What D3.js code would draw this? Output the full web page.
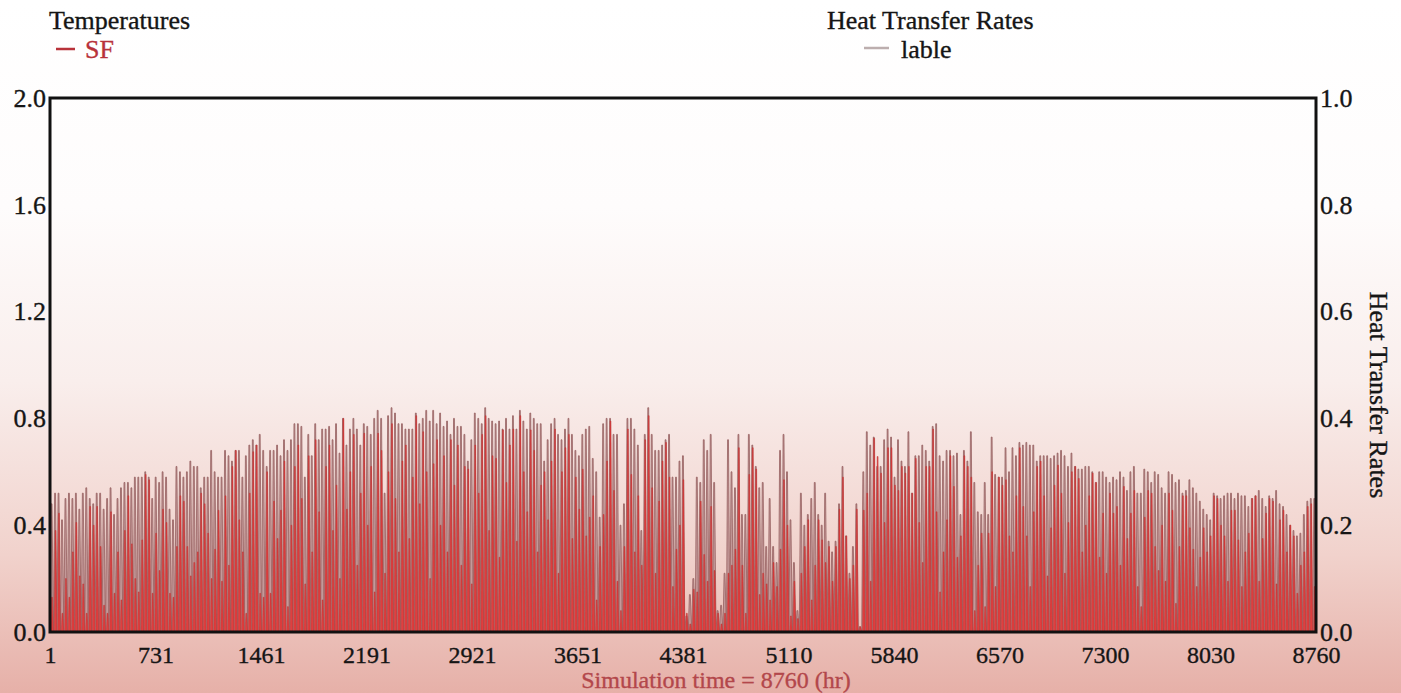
<!DOCTYPE html>
<html><head><meta charset="utf-8">
<script src="https://cdn.jsdelivr.net/npm/d3@7"></script>
<style>html,body{margin:0;padding:0;background:#fff;overflow:hidden}svg{display:block}</style>
</head><body><svg id="c" width="1401" height="693"></svg>
<script>
// ---------- data ----------
const xTicks = [1, 731, 1461, 2191, 2921, 3651, 4381, 5110, 5840, 6570, 7300, 8030, 8760];
const leftTicks = [0.0, 0.4, 0.8, 1.2, 1.6, 2.0];
const rightTicks = [0.0, 0.2, 0.4, 0.6, 0.8, 1.0];
const leftTitle = "Temperatures";
const rightTitle = "Heat Transfer Rates";
const seriesLeft = "SF";
const seriesRight = "lable";
const xTitle = "Simulation time = 8760 (hr)";
// daily peak of the "lable" series (right axis, Heat Transfer Rates), one per day
const lablePeaks = [
0.24,0.26,0.26,0.21,0.25,0.26,0.25,0.26,0.23,0.26,
0.27,0.25,0.24,0.26,0.26,0.23,0.25,0.27,0.22,0.25,
0.27,0.28,0.28,0.27,0.29,0.29,0.29,0.30,0.29,0.25,
0.29,0.28,0.30,0.29,0.23,0.21,0.31,0.30,0.29,0.30,
0.32,0.31,0.31,0.27,0.29,0.29,0.34,0.30,0.29,0.29,
0.34,0.33,0.32,0.34,0.34,0.29,0.33,0.35,0.36,0.35,
0.37,0.34,0.31,0.34,0.34,0.35,0.33,0.36,0.34,0.36,
0.39,0.39,0.385,0.29,0.37,0.33,0.39,0.36,0.38,0.38,
0.385,0.36,0.39,0.335,0.40,0.35,0.38,0.40,0.38,0.35,
0.39,0.385,0.37,0.40,0.415,0.40,0.26,0.405,0.42,0.41,
0.39,0.39,0.38,0.38,0.38,0.41,0.39,0.40,0.415,0.395,
0.415,0.39,0.41,0.385,0.395,0.37,0.40,0.385,0.385,0.37,
0.32,0.36,0.41,0.40,0.39,0.42,0.40,0.395,0.39,0.395,
0.38,0.40,0.38,0.405,0.38,0.415,0.395,0.38,0.41,0.40,
0.39,0.39,0.32,0.36,0.39,0.40,0.37,0.36,0.38,0.40,
0.37,0.34,0.33,0.37,0.38,0.385,0.325,0.30,0.215,0.39,
0.40,0.40,0.37,0.37,0.20,0.24,0.40,0.40,0.38,0.35,
0.19,0.37,0.42,0.37,0.34,0.34,0.35,0.36,0.37,0.29,
0.29,0.32,0.33,0.03,0.07,0.10,0.29,0.28,0.36,0.34,
0.37,0.28,0.04,0.05,0.11,0.36,0.30,0.27,0.37,0.22,
0.22,0.37,0.35,0.31,0.27,0.28,0.16,0.25,0.16,0.13,
0.34,0.37,0.30,0.21,0.13,0.04,0.26,0.20,0.22,0.25,
0.28,0.22,0.20,0.26,0.17,0.15,0.17,0.24,0.31,0.18,
0.11,0.16,0.24,0.01,0.30,0.375,0.35,0.365,0.31,0.31,
0.36,0.38,0.365,0.29,0.36,0.32,0.31,0.375,0.26,0.33,
0.33,0.35,0.34,0.32,0.385,0.39,0.33,0.32,0.34,0.34,
0.33,0.335,0.22,0.34,0.32,0.375,0.28,0.225,0.22,0.28,
0.22,0.365,0.295,0.29,0.29,0.345,0.30,0.345,0.33,0.355,
0.35,0.355,0.35,0.35,0.32,0.33,0.33,0.33,0.325,0.33,
0.335,0.34,0.33,0.31,0.335,0.31,0.305,0.305,0.31,0.31,
0.30,0.28,0.30,0.30,0.29,0.28,0.29,0.285,0.30,0.29,
0.265,0.30,0.31,0.26,0.26,0.305,0.30,0.28,0.30,0.295,
0.27,0.26,0.30,0.295,0.28,0.285,0.26,0.265,0.285,0.27,
0.26,0.245,0.23,0.22,0.21,0.26,0.255,0.25,0.255,0.26,
0.26,0.25,0.26,0.255,0.255,0.235,0.25,0.255,0.265,0.25,
0.235,0.255,0.25,0.265,0.24,0.235,0.22,0.20,0.19,0.18,
0.185,0.22,0.245,0.25,0.25];
// daily peak of the "SF" series (left axis), one per day
const sfPeaks = [
0.13,0.38,0.445,0.07,0.20,0.13,0.30,0.41,0.21,0.18,
0.07,0.47,0.40,0.47,0.32,0.10,0.07,0.45,0.145,0.30,
0.12,0.38,0.51,0.33,0.20,0.15,0.345,0.59,0.57,0.145,
0.37,0.23,0.46,0.41,0.145,0.13,0.32,0.51,0.49,0.32,
0.21,0.26,0.30,0.52,0.48,0.37,0.20,0.31,0.456,0.19,
0.51,0.25,0.62,0.68,0.42,0.30,0.07,0.52,0.675,0.70,
0.145,0.13,0.60,0.145,0.49,0.35,0.456,0.64,0.095,0.40,
0.62,0.70,0.50,0.18,0.66,0.30,0.72,0.45,0.12,0.62,
0.70,0.38,0.55,0.20,0.80,0.46,0.60,0.74,0.25,0.52,
0.744,0.40,0.62,0.15,0.744,0.68,0.22,0.60,0.78,0.50,
0.30,0.64,0.70,0.35,0.58,0.81,0.48,0.75,0.60,0.20,
0.63,0.72,0.40,0.66,0.30,0.72,0.55,0.70,0.25,0.62,
0.61,0.18,0.70,0.52,0.74,0.81,0.38,0.66,0.65,0.28,
0.757,0.56,0.70,0.76,0.34,0.81,0.60,0.45,0.757,0.68,
0.30,0.55,0.60,0.42,0.64,0.76,0.22,0.60,0.69,0.74,
0.35,0.58,0.46,0.61,0.36,0.43,0.51,0.12,0.32,0.44,
0.64,0.79,0.53,0.19,0.08,0.32,0.76,0.59,0.30,0.51,
0.25,0.72,0.81,0.54,0.22,0.49,0.64,0.71,0.58,0.17,
0.31,0.40,0.57,0.07,0.03,0.16,0.15,0.49,0.29,0.19,
0.47,0.23,0.07,0.03,0.07,0.22,0.25,0.31,0.69,0.25,
0.07,0.59,0.69,0.61,0.14,0.22,0.18,0.12,0.26,0.17,
0.31,0.57,0.40,0.06,0.19,0.05,0.22,0.32,0.42,0.12,
0.25,0.42,0.345,0.26,0.32,0.19,0.32,0.46,0.58,0.36,
0.20,0.25,0.46,0.02,0.456,0.52,0.19,0.726,0.657,0.595,
0.41,0.69,0.69,0.55,0.53,0.62,0.595,0.62,0.52,0.65,
0.41,0.26,0.62,0.62,0.76,0.45,0.15,0.30,0.42,0.66,
0.545,0.28,0.36,0.66,0.62,0.58,0.08,0.25,0.37,0.095,
0.37,0.60,0.17,0.58,0.55,0.57,0.36,0.30,0.51,0.69,
0.47,0.36,0.17,0.45,0.62,0.64,0.51,0.21,0.39,0.55,
0.625,0.52,0.22,0.41,0.60,0.62,0.575,0.30,0.40,0.51,
0.595,0.56,0.28,0.445,0.22,0.52,0.445,0.47,0.25,0.545,
0.35,0.445,0.53,0.17,0.095,0.43,0.53,0.52,0.32,0.23,
0.40,0.19,0.52,0.456,0.107,0.32,0.51,0.51,0.39,0.31,
0.17,0.28,0.39,0.30,0.36,0.51,0.50,0.40,0.36,0.19,
0.456,0.456,0.345,0.17,0.30,0.37,0.50,0.51,0.19,0.35,
0.445,0.50,0.49,0.18,0.42,0.456,0.30,0.40,0.36,0.145,
0.25,0.30,0.47,0.48,0.17];

// ---------- layout ----------
const W = 1401, H = 693;
const L = 50, R = 1316, T = 98, B = 632;
const svg = d3.select("#c");
const FONT = "'Liberation Serif','Times New Roman',serif";
const FS = 26, FSX = 24;

const defs = svg.append("defs");
const g0 = defs.append("linearGradient").attr("id","bg").attr("x1",0).attr("y1",0).attr("x2",0).attr("y2",1);
[[0,"#ffffff"],[0.3,"#fefcfc"],[0.55,"#f9eeec"],[0.8,"#f1d2cc"],[1,"#e6b0a8"]]
  .forEach(([o,c]) => g0.append("stop").attr("offset",o).attr("stop-color",c));
svg.append("rect").attr("width",W).attr("height",H).attr("fill","url(#bg)");

const x = d3.scaleLinear().domain([1, 8760]).range([L, R]);
const yL = d3.scaleLinear().domain([0, 2]).range([B, T]);
const yR = d3.scaleLinear().domain([0, 1]).range([B, T]);

defs.append("clipPath").attr("id","clip").append("rect")
  .attr("x",L).attr("y",T).attr("width",R-L).attr("height",B-T);

const plot = svg.append("g").attr("clip-path","url(#clip)");
const line = d3.line().x(d => x(d[0])).y(d => d[1]);

// lable spikes (right axis)
plot.append("g").selectAll("path").data(lablePeaks).join("path")
  .attr("d", (v,i) => {
    const h = i*24 + 1;
    return line([[h+0, yR(0)],[h+8, yR(v)],[h+14, yR(v)],[h+24, yR(0)]]) + "Z";
  })
  .attr("fill","#c49999").attr("stroke","#956060").attr("stroke-width",0.8);

// SF spikes (left axis)
plot.append("g").selectAll("path").data(sfPeaks).join("path")
  .attr("d", (v,i) => {
    const h = i*24 + 1;
    return line([[h+6, yL(0)],[h+11, yL(v)],[h+17, yL(v)],[h+23, yL(0)]]) + "Z";
  })
  .attr("fill","#e23e3e").attr("stroke","#bb3232").attr("stroke-width",0.5);

// frame
svg.append("rect").attr("x",L).attr("y",T).attr("width",R-L).attr("height",B-T)
  .attr("fill","none").attr("stroke","#111").attr("stroke-width",3);

// axes (labels only)
const axL = d3.axisLeft(yL).tickValues(leftTicks).tickFormat(d3.format(".1f")).tickSize(0).tickPadding(3);
const axR = d3.axisRight(yR).tickValues(rightTicks).tickFormat(d3.format(".1f")).tickSize(0).tickPadding(3);
const axB = d3.axisBottom(x).tickValues(xTicks).tickFormat(d3.format("d")).tickSize(0).tickPadding(14);
function style(size){
  return g => {
    g.select(".domain").remove();
    g.selectAll("text").attr("font-family",FONT).attr("font-size",size).attr("fill","#151515")
      .attr("stroke","#151515").attr("stroke-width",0.35);
  };
}
svg.append("g").attr("transform",`translate(${L-1},0)`).call(axL).call(style(FS));
svg.append("g").attr("transform",`translate(${R+1},0)`).call(axR).call(style(FS));
svg.append("g").attr("transform",`translate(0,${B})`).call(axB).call(style(FSX));

// titles & legends
const txt = (s, xx, yy, col, size, anchor) => svg.append("text").text(s).attr("x",xx).attr("y",yy)
  .attr("font-family",FONT).attr("font-size",size).attr("fill",col).attr("stroke",col).attr("stroke-width",0.35)
  .attr("text-anchor",anchor||"start");
txt(leftTitle, 49, 29, "#151515", FS);
svg.append("line").attr("x1",56).attr("x2",75).attr("y1",49).attr("y2",49).attr("stroke","#b8323a").attr("stroke-width",2.5);
txt(seriesLeft, 85, 58, "#b8323a", FS);
txt(rightTitle, 827, 29, "#151515", FS);
svg.append("line").attr("x1",864).attr("x2",889).attr("y1",48).attr("y2",48).attr("stroke","#bcaeae").attr("stroke-width",2.5);
txt(seriesRight, 901, 58, "#151515", FS);
txt(xTitle, 716, 688, "#b3474b", FSX, "middle");
svg.append("text").text(rightTitle)
  .attr("transform","translate(1370,395) rotate(90)")
  .attr("text-anchor","middle").attr("font-family",FONT).attr("font-size",FS).attr("fill","#151515")
  .attr("stroke","#151515").attr("stroke-width",0.35);
</script></body></html>
